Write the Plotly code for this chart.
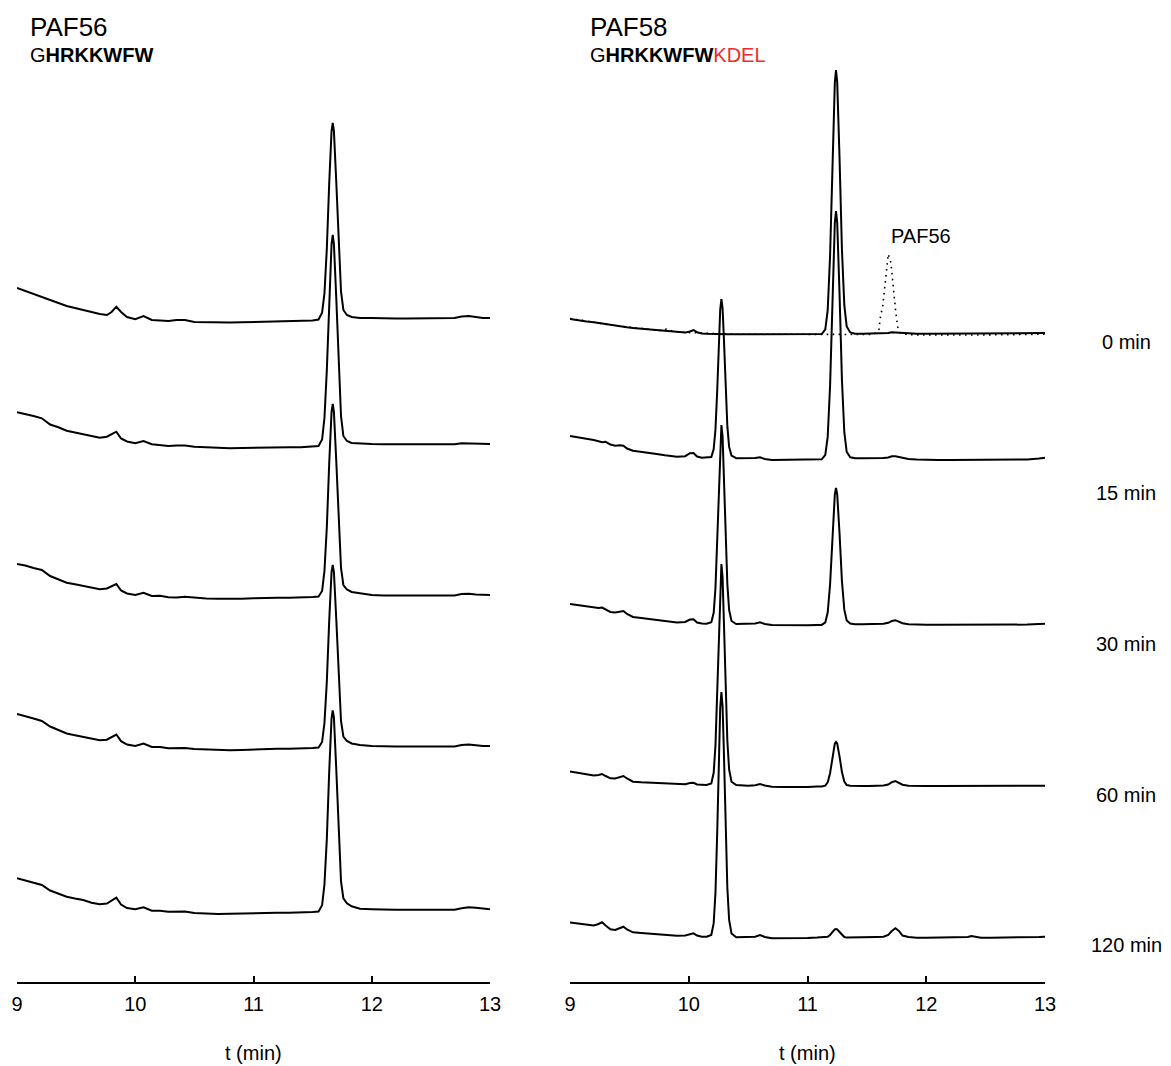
import plotly.graph_objects as go

# ---------------- data ----------------
# PAF56 panel (left): retention time grid (min)
t_left = [9.00, 9.07, 9.14, 9.21, 9.28, 9.35, 9.42, 9.49, 9.56, 9.63,
          9.70, 9.76, 9.80, 9.84, 9.88, 9.93, 10.00, 10.07, 10.14, 10.21,
          10.28, 10.35, 10.42, 10.50, 10.60, 10.70, 10.80, 10.90, 11.00, 11.10,
          11.20, 11.30, 11.40, 11.50, 11.55, 11.58, 11.60, 11.62, 11.64, 11.66,
          11.67, 11.68, 11.70, 11.72, 11.74, 11.76, 11.79, 11.83, 11.90, 12.00,
          12.10, 12.20, 12.30, 12.40, 12.50, 12.60, 12.70, 12.76, 12.82, 12.88,
          12.94, 13.00]

paf56_0 = [30, 27, 24, 21, 17.5, 14.5, 12, 10, 8, 5.5,
           4, 3, 6, 11.3, 6, 1, -1.3, 2, -2, -2.5,
           -3, -2, -2, -4, -4.3, -4.3, -4.5, -4.3, -4, -4,
           -3.5, -3, -3, -2.5, -1.5, 5.3, 24.6, 69, 134, 187,
           195, 187, 136, 71, 26.5, 8, 3, 1, 0, 0,
           -0.5, -0.5, -0.5, -0.5, -0.5, -0.5, 0, 1.5, 2, 1,
           0, 0]
paf56_15 = [31.7, 30, 28, 25.7, 19.5, 16.7, 13.3, 11.5, 9.8, 7.7,
            6.3, 7.3, 9.5, 12.3, 5.5, 2.5, 0.7, 3, -0.3, -1.3,
            -2, -1.5, -1.5, -2.8, -3.5, -4, -4.3, -4, -3.7, -3.3,
            -3.3, -3.3, -3.3, -2.5, -2, 4.5, 26, 73.5, 143, 200,
            209, 200, 146, 76, 28, 8, 3, 1, 0.3, 0,
            -0.3, -0.3, -0.3, -0.3, -0.3, -0.3, -0.3, 0.7, 0.5, 0.2,
            0, 0]
paf56_30 = [31, 29.5, 27, 25, 19, 15.5, 12.3, 10.7, 9.2, 7.3,
            5.7, 6.5, 8.5, 11, 4.5, 1.5, 0, 2.3, -1, -0.8,
            -2.3, -2.5, -1.8, -2.8, -3.5, -3.8, -4, -3.7, -3.3, -2.8,
            -2.7, -2.7, -2.7, -2, -1.5, 4, 24, 67.5, 131, 183,
            191, 183, 134, 70.5, 27, 10, 5.5, 3, 1.5, 0,
            -0.5, -0.5, -0.5, -0.5, -0.5, -0.5, -0.5, 1, 1.3, 0.5,
            0, 0]
paf56_60 = [32, 30, 27.5, 25, 19.5, 16, 12.5, 10.8, 9.3, 7.3,
            5.8, 6.3, 8.5, 11.5, 4.8, 1.5, 0, 2.5, -1, -1,
            -2.2, -2.3, -2, -3, -3.5, -4, -4.2, -4, -3.5, -3,
            -2.8, -2.8, -2.7, -2, -1.5, 4, 23, 64, 124.6, 174,
            181, 174, 127, 67, 25, 9.5, 5, 2.5, 1, 0,
            -0.5, -0.5, -0.5, -0.5, -0.5, -0.5, -0.5, 1, 1.5, 0.8,
            0, 0]
paf56_120 = [31, 28.8, 26.6, 24.3, 18.8, 16, 12.6, 10.8, 9.3, 6.6,
             5, 5.8, 8.3, 11.6, 4.8, 1.3, 0, 2, -1.4, -1.4,
             -2.4, -2.2, -2.2, -3.7, -4.2, -4.7, -4.4, -4, -3.5, -3.4,
             -3.4, -3.4, -3.4, -2.7, -2.2, 4, 25, 70, 137, 191,
             199, 192, 140, 74, 28, 11, 6, 3, 0.5, 0,
             -0.5, -0.5, -0.5, -0.5, -0.5, -0.5, -0.5, 1, 2, 1.5,
             0.5, 0]

# PAF58 panel (right): retention time grid (min)
t_right = [9.00, 9.07, 9.14, 9.20, 9.24, 9.27, 9.30, 9.34, 9.38, 9.42,
           9.45, 9.48, 9.53, 9.60, 9.70, 9.80, 9.90, 9.97, 10.01, 10.04,
           10.07, 10.11, 10.15, 10.19, 10.21, 10.225, 10.24, 10.255, 10.265, 10.275,
           10.285, 10.295, 10.31, 10.325, 10.34, 10.36, 10.40, 10.45, 10.50, 10.56,
           10.60, 10.64, 10.70, 10.80, 10.90, 11.00, 11.08, 11.12, 11.15, 11.17,
           11.19, 11.21, 11.23, 11.24, 11.25, 11.27, 11.29, 11.31, 11.33, 11.36,
           11.40, 11.46, 11.52, 11.58, 11.64, 11.68, 11.71, 11.74, 11.77, 11.80,
           11.85, 11.92, 12.00, 12.10, 12.20, 12.30, 12.35, 12.38, 12.41, 12.46,
           12.55, 12.65, 12.75, 12.85, 12.95, 13.00]

paf58_0 = [14, 12.5, 11.5, 10.7, 9.9, 9.3, 8.8, 8, 7.3, 6.6,
           6.1, 5.7, 5.1, 4.3, 2.9, 1.8, 0.7, 0.4, 1.5, 3,
           0.8, -0.5, -0.8, -1.1, -1.2, -1.2, -1.2, -1.2, -1.2, -1.3,
           -1.3, -1.3, -1.3, -1.3, -1.3, -1.3, -1.3, -1.3, -1.3, -1.3,
           -1.3, -1.3, -1.3, -1.3, -1.3, -1.3, -1.2, -1.1, 3.7, 22.8,
           76.7, 168.9, 250.3, 263, 251.1, 174.5, 83.3, 27.8, 6.6, 0.5,
           -0.8, -0.7, -0.7, -0.7, -0.5, 0, 0.8, 0.6, 0, -0.5,
           -0.7, -0.7, -0.7, -0.7, -0.7, -0.6, -0.6, -0.5, -0.5, -0.5,
           -0.4, -0.3, -0.2, -0.1, 0, 0]
paf58_15 = [22, 20.8, 19.4, 18, 16.8, 15.8, 16.2, 13.5, 12.3, 12.8,
            12.3, 9.5, 7.2, 6.3, 4.5, 2.7, 1.3, 1.8, 4.8, 5,
            1.5, 0.3, 0.3, 1, 9, 28.6, 68.4, 120.8, 148.5, 159,
            149.5, 122.4, 71.5, 31.8, 11.1, 2.4, -0.2, -0.3, -0.3, 0,
            0.8, -1, -2, -2, -2, -1.7, -1.4, -1.3, 3.2, 21.1,
            71.8, 158.5, 235.1, 247, 235.8, 163.8, 78, 25.8, 6.2, 0.7,
            -0.3, -0.3, -0.3, -0.3, 0, 0.5, 1.8, 1.8, 1, 0,
            -1, -1.5, -2, -2, -2, -2, -2, -2, -2, -2,
            -2, -2, -2, -1.5, -0.5, 0.3]
paf58_30 = [20, 19, 18, 16.5, 16, 16.5, 14.5, 12, 11.5, 12.5,
            13, 10, 7, 6, 4.5, 3, 1.5, 2, 4.5, 4.7,
            1.5, 0.5, 0.3, 1.7, 11.2, 36.1, 85.9, 151.5, 186.2, 199,
            187.4, 153.5, 89.8, 40, 14, 3, 0, 0, 0, 0.5,
            1.8, 0, -1, -1.3, -1.3, -1.2, -1, -0.9, 1.6, 11.5,
            39.4, 87.2, 129.4, 136, 129.8, 90.1, 42.8, 14.3, 3.5, 0.5,
            -0.3, -0.3, -0.3, -0.2, 0.3, 1.2, 3, 3.8, 2.5, 0.8,
            -0.3, -0.8, -0.8, -0.8, -0.8, -0.8, -0.8, -0.8, -0.8, -0.8,
            -0.8, -0.8, -0.8, -0.6, 0, 0.3]
paf58_60 = [14.5, 13.2, 12, 10.5, 11, 12, 10, 7.7, 7.5, 8.5,
            10, 7.5, 4.3, 3.7, 3, 2.4, 1.7, 1.8, 3, 3.2,
            1.5, 1, 1, 2.5, 13.2, 40.8, 96, 169, 207.4, 222,
            208.7, 171.2, 100.5, 45.2, 16.5, 4.3, 1, 0.5, 0.3, 0.8,
            2, 0.5, -0.7, -1.1, -1.3, -1, -0.6, -0.5, 0.4, 3.6,
            12.8, 28.5, 42.3, 44, 42.5, 29.4, 13.9, 4.5, 1, 0.3,
            0, 0, 0, 0, 0.5, 1.5, 3.8, 5, 3.5, 1.3,
            0.3, 0, 0, 0, 0, 0, 0.2, 0.5, 0.2, 0,
            0, 0, 0, 0, 0.2, 0.3]
paf58_120 = [14.5, 13.5, 12.5, 11.5, 13, 14.7, 11.5, 7.7, 7, 8.5,
             10.3, 7.5, 4.7, 4, 3, 2.3, 1.3, 1.5, 3, 3.7,
             1.5, 0.3, 0.3, 2, 13.8, 44.4, 105.7, 186.5, 229.1, 245,
             230.6, 189, 110.6, 49.2, 17.2, 3.5, -0.3, -0.3, -0.3, 0.3,
             2, 0, -1.3, -1.3, -1.3, -1, -0.5, -0.4, -0.2, 0.3,
             2, 5, 7.6, 8, 7.6, 5, 2, 0, -0.6, -0.6,
             -0.4, -0.3, -0.2, 0, 0.3, 2, 6, 8.7, 6, 1.5,
             0, -0.7, -0.7, -0.7, -0.7, -0.5, 0, 1, 0.2, -0.7,
             -0.7, -0.7, -0.7, -0.7, 0, 0.3]

# PAF56 reference chromatogram overlaid (dotted) on the PAF58 0 min trace
t_ref = [9.00, 9.10, 9.20, 9.30, 9.40, 9.50, 9.60, 9.70, 9.76, 9.81,
         9.86, 9.92, 10.00, 10.10, 10.20, 10.40, 10.60, 10.80, 11.00, 11.20,
         11.40, 11.55, 11.60, 11.616, 11.633, 11.647, 11.661, 11.68, 11.703, 11.714,
         11.731, 11.743, 11.76, 11.78, 11.85, 12.00, 12.20, 12.40, 12.60, 12.80,
         13.00]
ref_paf56 = [14.5, 12.5, 11, 9, 7, 5.8, 4.5, 3.2, 2.5, 3.8,
             2, 0.8, 0.5, -0.5, -1, -1.2, -1.2, -1.3, -1.3, -1.3,
             -1.5, -1.5, 2, 18, 26, 43, 61, 79, 70, 55,
             36, 21, 6, 0, -1.8, -2, -2, -2, -1.8, -1.5,
             -1.2]

# incubation times and vertical stacking offsets (signal units)
times = ["0 min", "15 min", "30 min", "60 min", "120 min"]
left_series = [paf56_0, paf56_15, paf56_30, paf56_60, paf56_120]
right_series = [paf58_0, paf58_15, paf58_30, paf58_60, paf58_120]
left_offsets = [664, 538, 387, 236, 72.7]
right_offsets = [649, 524, 358, 196, 45]

for s in left_series:
    assert len(s) == len(t_left)
for s in right_series:
    assert len(s) == len(t_right)
assert len(ref_paf56) == len(t_ref)

# ---------------- figure ----------------
FONT = "Liberation Sans, Arial, Helvetica, sans-serif"
W, H = 1171, 1066
SH = 8                      # page body offset of the figure
PLOT_TOP, PLOT_BOT = 60 - SH, 982 - SH
MT, MB = PLOT_TOP, H - PLOT_BOT
PH = H - MT - MB

fig = go.Figure()
line = dict(color="black", width=2)

for s, off in zip(left_series, left_offsets):
    fig.add_trace(go.Scatter(x=t_left, y=[v + off for v in s], mode="lines",
                             line=line, xaxis="x", yaxis="y", hoverinfo="skip"))
for s, off in zip(right_series, right_offsets):
    fig.add_trace(go.Scatter(x=t_right, y=[v + off for v in s], mode="lines",
                             line=line, xaxis="x2", yaxis="y2", hoverinfo="skip"))
fig.add_trace(go.Scatter(x=t_ref, y=[v + right_offsets[0] for v in ref_paf56],
                         mode="lines", line=dict(color="black", width=1.6, dash="1.6px,4.4px"),
                         xaxis="x2", yaxis="y2", hoverinfo="skip"))

xax = dict(range=[9, 13], tickvals=[9, 10, 11, 12, 13], ticks="inside", ticklen=6,
           tickwidth=1.5, tickcolor="black", showline=True, linecolor="black",
           linewidth=1.5, showgrid=False, zeroline=False, automargin=False,
           tickfont=dict(family=FONT, size=20, color="black"), ticklabelstandoff=3)
yax = dict(range=[0, PH], visible=False, fixedrange=True, automargin=False)


def px(x):
    """target pixel column -> paper x"""
    return (x - SH) / W


def py(p):
    """target pixel row -> paper y"""
    return ((H - MB) - (p - SH)) / PH


fig.update_layout(
    width=W, height=H,
    margin=dict(l=0, r=0, t=MT, b=MB, autoexpand=False),
    paper_bgcolor="white", plot_bgcolor="white",
    showlegend=False,
    font=dict(family=FONT, color="black"),
    xaxis=dict(domain=[px(17), px(490)], anchor="y", **xax),
    xaxis2=dict(domain=[px(570), px(1045)], anchor="y2", **xax),
    yaxis=dict(anchor="x", **yax),
    yaxis2=dict(anchor="x2", **yax),
)

ann = []
ann.append(dict(text="PAF56", x=px(28), y=py(27), xanchor="left", yanchor="middle",
                font=dict(size=26)))
ann.append(dict(text="G<b>HRKKWFW</b>", x=px(28), y=py(55), xanchor="left",
                yanchor="middle", font=dict(size=20)))
ann.append(dict(text="PAF58", x=px(588), y=py(27), xanchor="left", yanchor="middle",
                font=dict(size=26)))
ann.append(dict(text="G<b>HRKKWFW</b><span style='color:#ee2a2a'>KDEL</span>",
                x=px(588), y=py(55), xanchor="left", yanchor="middle", font=dict(size=20)))
ann.append(dict(text="PAF56", x=px(889), y=py(236), xanchor="left", yanchor="middle",
                font=dict(size=20)))
label_rows = [342, 493, 644, 795, 945]
for lab, r in zip(times, label_rows):
    ann.append(dict(text=lab, x=px(1126), y=py(r), xanchor="center", yanchor="middle",
                    font=dict(size=20)))
ann.append(dict(text="t (min)", x=px(253.5), y=py(1053), xanchor="center",
                yanchor="middle", font=dict(size=20)))
ann.append(dict(text="t (min)", x=px(807.5), y=py(1053), xanchor="center",
                yanchor="middle", font=dict(size=20)))
for a in ann:
    a.update(xref="paper", yref="paper", showarrow=False)
    a["font"].update(family=FONT, color="black")
fig.update_layout(annotations=ann)

fig.write_html("out.html")
